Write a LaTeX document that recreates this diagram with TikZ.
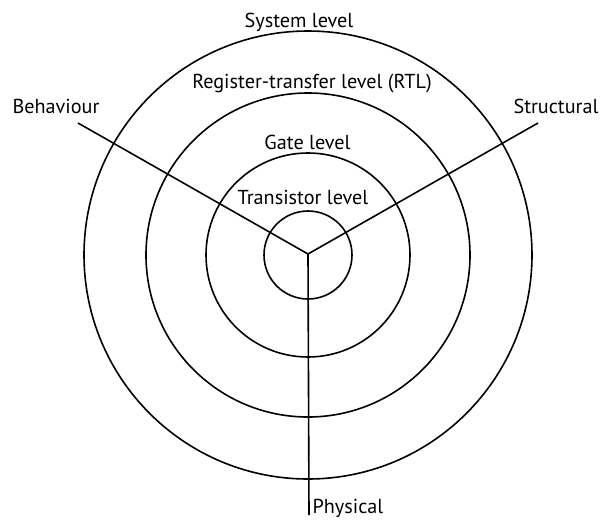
\documentclass[tikz,border=0pt]{standalone}
\usepackage{fontspec}
\setmainfont{PT Sans}
\begin{document}
\begin{tikzpicture}[x=1pt,y=-1pt,
  ring/.style={circle,draw,line width=1.6pt,inner sep=0pt},
  axis/.style={line width=1.6pt},
  lbl/.style={anchor=base,inner sep=0pt,font=\fontsize{20.2}{22}\selectfont}]
\useasboundingbox[fill=white] (0,0) rectangle (600,520);
\coordinate (ctr) at (308,255);
\node[ring,minimum size=88pt] (r1) at (ctr) {};
\node[ring,minimum size=204pt] (r2) at (ctr) {};
\node[ring,minimum size=324pt] (r3) at (ctr) {};
\node[ring,minimum size=448pt] (r4) at (ctr) {};
\coordinate (hub) at (308,254);
\coordinate (bend) at (78,123);
\coordinate (send) at (538,123);
\coordinate (pend) at (309,515);
\draw[axis] (hub) -- (bend);
\draw[axis] (hub) -- (send);
\draw[axis] (hub) -- (pend);
\node[lbl] (sys) at (299,27) {System level};
\node[lbl] (rtl) at (312,88) {Register-transfer level (RTL)};
\node[lbl] (gate) at (307.5,149) {Gate level};
\node[lbl] (tr) at (303,204) {Transistor level};
\node[lbl] (beh) at (56,113) {Behaviour};
\node[lbl] (str) at (556,113) {Structural};
\node[lbl] (phy) at (348,513) {Physical};
\end{tikzpicture}
\end{document}
